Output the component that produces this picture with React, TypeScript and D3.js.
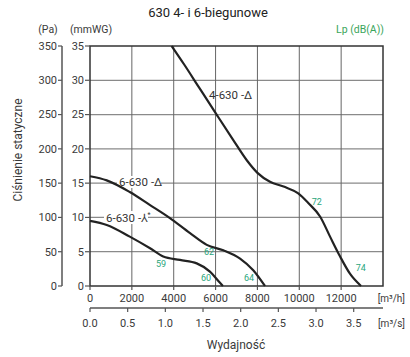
import React from "react";
import * as d3 from "d3";

const title = "630 4- i 6-biegunowe";
const xTicksH = [0, 2000, 4000, 6000, 8000, 10000, 12000];
const xTicksS = [0, 0.5, 1.0, 1.5, 2.0, 2.5, 3.0, 3.5];
const yTicksPa = [0, 50, 100, 150, 200, 250, 300, 350];
const yTicksMm = [0, 5, 10, 15, 20, 25, 30, 35];
const gridX = [2000, 4000, 6000, 8000, 10000, 12000];

const curve4D: [number, number][] = [
  [3900, 350], [4500, 323], [5200, 290], [6050, 250], [6800, 215], [7500, 183],
  [8000, 165], [8600, 152], [9250, 145], [9950, 135], [10430, 121], [11000, 101],
  [11470, 72], [11950, 43], [12420, 18], [12950, 0],
];
const curve6D: [number, number][] = [
  [0, 160], [800, 154], [1900, 137], [2870, 118], [3820, 99], [4780, 77],
  [5580, 60], [6370, 52], [7170, 40], [7800, 23], [8360, 0],
];
const curve6Y: [number, number][] = [
  [0, 95], [800, 89], [1900, 72], [2870, 55], [3500, 43], [4300, 38],
  [5100, 33], [5730, 21], [6200, 5], [6350, 0],
];
const lpLabels: [number, number, string][] = [
  [3392, 33, "59"], [5542, 12, "60"], [5686, 50, "62"], [7597, 12, "64"],
  [10832, 122, "72"], [12934, 26, "74"],
];

const W = 410, H = 357;
const font = "Roboto, 'Noto Sans', sans-serif";

export default function App() {
  const x = d3.scaleLinear().domain([0, 14000]).range([90, 383]);
  const xs = d3.scaleLinear().domain([0, 14000 / 3600]).range([90, 383]);
  const y = d3.scaleLinear().domain([0, 350]).range([286, 46]);
  const ymm = d3.scaleLinear().domain([0, 35]).range([286, 46]);
  const line = d3
    .line<[number, number]>()
    .x((d) => x(d[0]))
    .y((d) => y(d[1]))
    .curve(d3.curveMonotoneX);
  const txt = "#3a3a3a";
  const green = "#3aa55a";
  const teal = "#2aa67c";
  return (
    <svg width={W} height={H} style={{ position: "absolute", left: 0, top: 0, background: "#fff" }} fontFamily={font}>
      <text x={208} y={17} textAnchor="middle" fontSize={13} fill="#222">{title}</text>
      <text x={48} y={33} textAnchor="middle" fontSize={10.5} fill={txt}>(Pa)</text>
      <text x={70} y={33} textAnchor="start" fontSize={10.5} fill={txt}>(mmWG)</text>
      <text x={384} y={33} textAnchor="end" fontSize={10.5} fill={green}>Lp (dB(A))</text>
      {/* grid */}
      {yTicksPa.slice(1, -1).map((v) => (
        <line key={"gy" + v} x1={90} x2={383} y1={y(v)} y2={y(v)} stroke="#8a8a8a" strokeWidth={1.2} />
      ))}
      {gridX.map((v) => (
        <line key={"gx" + v} x1={x(v)} x2={x(v)} y1={46} y2={286} stroke="#666" strokeWidth={1} />
      ))}
      {/* frame */}
      <rect x={90} y={46} width={293} height={240} fill="none" stroke="#333" strokeWidth={1.5} />
      {/* Pa axis */}
      <line x1={62} x2={62} y1={46} y2={286} stroke="#555" strokeWidth={1.5} />
      {yTicksPa.map((v) => (
        <g key={"pa" + v}>
          <line x1={58} x2={62} y1={y(v)} y2={y(v)} stroke="#555" strokeWidth={1.2} />
          <text x={57} y={y(v)} dy="0.35em" textAnchor="end" fontSize={11} fill={txt}>{v}</text>
        </g>
      ))}
      {yTicksMm.map((v) => (
        <g key={"mm" + v}>
          <line x1={85} x2={90} y1={ymm(v)} y2={ymm(v)} stroke="#555" strokeWidth={1.2} />
          <text x={84} y={ymm(v)} dy="0.35em" textAnchor="end" fontSize={11} fill={txt}>{v}</text>
        </g>
      ))}
      <text transform="translate(22,150) rotate(-90)" textAnchor="middle" fontSize={12} fill={txt}>Ciśnienie statyczne</text>
      {/* x axis m3/h */}
      {xTicksH.map((v) => (
        <g key={"xh" + v}>
          <line x1={x(v)} x2={x(v)} y1={286} y2={290} stroke="#555" strokeWidth={1.2} />
          <text x={x(v)} y={302} textAnchor="middle" fontSize={11} fill={txt}>{v}</text>
        </g>
      ))}
      <text x={405} y={302} textAnchor="end" fontSize={10} fill={txt}>[m³/h]</text>
      {/* x axis m3/s */}
      <line x1={90} x2={383} y1={308} y2={308} stroke="#555" strokeWidth={1.5} />
      {xTicksS.map((v) => (
        <g key={"xs" + v}>
          <line x1={xs(v)} x2={xs(v)} y1={308} y2={312} stroke="#555" strokeWidth={1.2} />
          <text x={xs(v)} y={327} textAnchor="middle" fontSize={11} fill={txt}>{v.toFixed(1)}</text>
        </g>
      ))}
      <text x={405} y={327} textAnchor="end" fontSize={10} fill={txt}>[m³/s]</text>
      <text x={236} y={349} textAnchor="middle" fontSize={12} fill={txt}>Wydajność</text>
      {/* label backgrounds (hide grid under labels) */}
      <rect x={117} y={176} width={44} height={12} fill="#fff" />
      <rect x={104} y={211} width={44} height={13} fill="#fff" />
      {/* curves */}
      <path d={line(curve4D) || ""} fill="none" stroke="#222" strokeWidth={2.2} />
      <path d={line(curve6D) || ""} fill="none" stroke="#222" strokeWidth={2.2} />
      <path d={line(curve6Y) || ""} fill="none" stroke="#222" strokeWidth={2.2} />
      {/* curve labels */}
      <text x={209} y={95} dy="0.35em" fontSize={11.5} fill="#333">4-630 -Δ</text>
      <text x={119} y={182} dy="0.35em" fontSize={11.5} fill="#333">6-630 -Δ</text>
      <text x={106} y={218} dy="0.35em" fontSize={11.5} fill="#333">6-630 -⅄<tspan fontSize={7} dy="-5">*</tspan></text>
      {lpLabels.map(([a, b, t]) => (
        <text key={"lp" + t} x={x(a)} y={y(b)} dy="0.35em" textAnchor="middle" fontSize={9} fill={teal}>{t}</text>
      ))}
    </svg>
  );
}
